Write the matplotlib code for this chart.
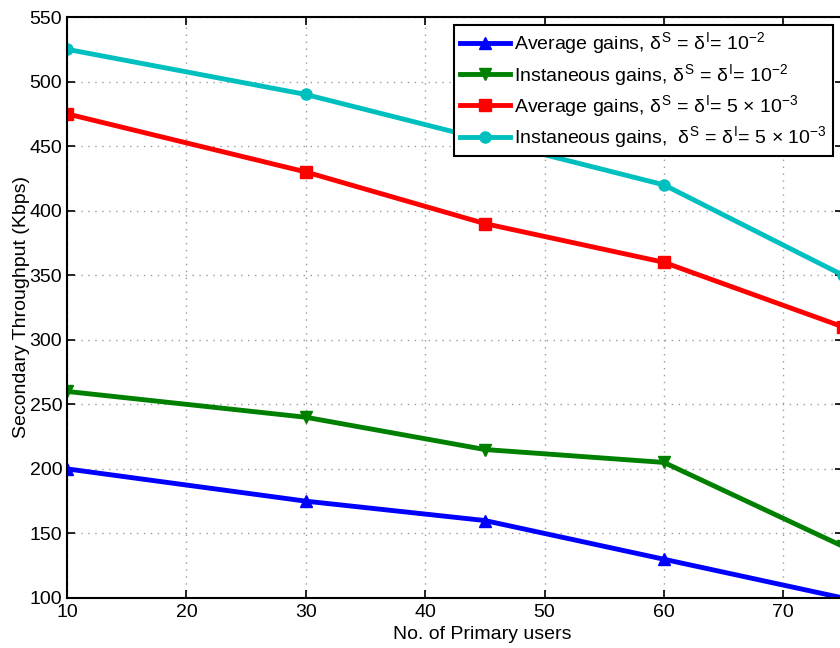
import matplotlib
matplotlib.use('Agg')
import matplotlib.pyplot as plt

plt.rcParams['font.family'] = ['Liberation Sans', 'DejaVu Sans']
plt.rcParams['mathtext.fontset'] = 'custom'
plt.rcParams['mathtext.rm'] = 'Liberation Sans'
plt.rcParams['mathtext.it'] = 'Liberation Sans'
plt.rcParams['mathtext.bf'] = 'Liberation Sans:bold'

users = [10, 30, 45, 60, 75]
avg_1e2 = [200, 175, 160, 130, 100]
inst_1e2 = [260, 240, 215, 205, 140]
avg_5e3 = [475, 430, 390, 360, 310]
inst_5e3 = [525, 490, 455, 420, 350]

labels = [
    r'Average gains, $\delta^{\rm S}$ = $\delta^{\rm I}$= $10^{-2}$',
    r'Instaneous gains, $\delta^{\rm S}$ = $\delta^{\rm I}$= $10^{-2}$',
    r'Average gains, $\delta^{\rm S}$ = $\delta^{\rm I}$= 5 $\times$ $10^{-3}$',
    r'Instaneous gains,  $\delta^{\rm S}$ = $\delta^{\rm I}$= 5 $\times$ $10^{-3}$',
]


def main():
    fig = plt.figure(figsize=(8.4, 6.48), dpi=100)
    ax = fig.add_axes([67 / 840, 1 - 598 / 648, 776 / 840, 581 / 648])

    ax.plot(users, avg_1e2, '-^', color='#0000ff', lw=3.5, ms=9, label=labels[0])
    ax.plot(users, inst_1e2, '-v', color='#008000', lw=3.5, ms=9, label=labels[1])
    ax.plot(users, avg_5e3, '-s', color='#ff0000', lw=3.5, ms=8, label=labels[2])
    ax.plot(users, inst_5e3, '-o', color='#00bfbf', lw=3.5, ms=8, label=labels[3])

    ax.set_xlim(10, 75)
    ax.set_ylim(100, 550)
    ax.set_xticks(range(10, 80, 10))
    ax.set_yticks(range(100, 600, 50))
    ax.grid(True, linestyle=(0, (1, 4)), color='#999999', lw=1)
    ax.tick_params(direction='in', top=True, right=True, labelsize=14, length=6, width=1.2)
    ax.tick_params(axis='x', pad=4)
    for s in ax.spines.values():
        s.set_linewidth(1.5)

    ax.set_xlabel('No. of Primary users', fontsize=14, va='center')
    ax.xaxis.set_label_coords(0.535, -0.062, transform=ax.transAxes)
    ax.set_ylabel('Secondary Throughput (Kbps)', fontsize=14, va='center')
    ax.yaxis.set_label_coords(-0.058, 0.5, transform=ax.transAxes)

    leg = ax.legend(loc='upper right', bbox_to_anchor=(0.987, 0.987), fontsize=14,
                    fancybox=False, framealpha=1, edgecolor='black',
                    handlelength=2.6, handletextpad=0.2, borderpad=0.3,
                    labelspacing=0.28, borderaxespad=0)
    leg.get_frame().set_linewidth(1.5)

    fig.savefig('out.png', dpi=100)


if __name__ == '__main__':
    main()
